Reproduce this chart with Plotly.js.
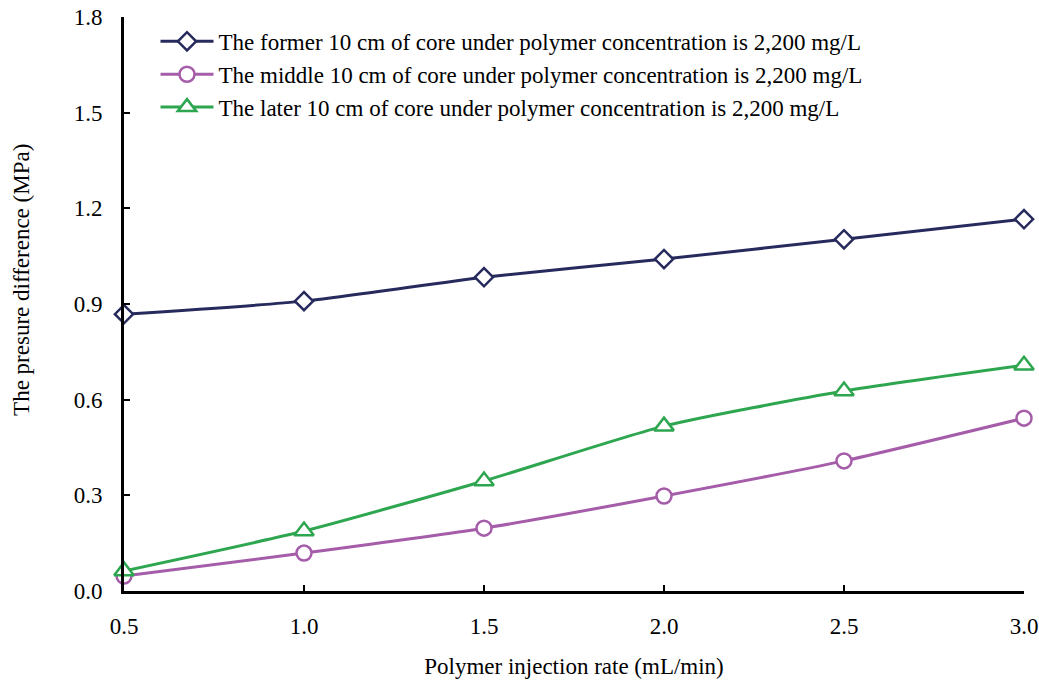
<!DOCTYPE html>
<html>
<head>
<meta charset="utf-8">
<script src="https://cdn.plot.ly/plotly-3.0.1.min.js"></script>
<style>html,body{margin:0;padding:0;background:#fff;}#chart{width:1039px;height:682px;}</style>
</head>
<body>
<div id="chart"></div>
<script>
const injectionRate = [0.5, 1.0, 1.5, 2.0, 2.5, 3.0];
const formerCore = [0.868, 0.909, 0.984, 1.041, 1.103, 1.166];
const middleCore = [0.047, 0.119, 0.197, 0.298, 0.408, 0.542];
const laterCore = [0.063, 0.188, 0.345, 0.517, 0.627, 0.708];
const seriesNames = [
  "The former 10 cm of core under polymer concentration is 2,200 mg/L",
  "The middle 10 cm of core under polymer concentration is 2,200 mg/L",
  "The later 10 cm of core under polymer concentration is 2,200 mg/L"
];
const font = "Liberation Serif, Times New Roman, serif";

function trace(y, name, color, symbol, size) {
  return {
    x: injectionRate, y: y, name: name, type: "scatter", mode: "lines+markers",
    line: {color: color, width: 3, shape: "spline", smoothing: 0.6},
    marker: {symbol: symbol, size: size, color: "#ffffff", line: {color: color, width: 2.5}},
    cliponaxis: false
  };
}
const data = [
  trace(formerCore, seriesNames[0], "#272a5c", "diamond", 14),
  trace(middleCore, seriesNames[1], "#a55ca9", "circle", 15),
  trace(laterCore, seriesNames[2], "#2ea650", "triangle-up", 17)
];
const layout = {
  width: 1039, height: 682,
  margin: {l: 124, r: 15, t: 17, b: 91},
  paper_bgcolor: "#fff", plot_bgcolor: "#fff",
  font: {family: font, color: "#000", size: 23},
  showlegend: true,
  legend: {x: 0.035, y: 0.995, xanchor: "left", yanchor: "top", bgcolor: "rgba(0,0,0,0)",
           font: {family: font, size: 23, color: "#000"}, itemwidth: 53, tracegroupgap: 0},
  xaxis: {
    range: [0.5, 3.0], tickvals: injectionRate, tickformat: ".1f",
    showline: true, linecolor: "#000", linewidth: 3, showgrid: false, zeroline: false,
    ticks: "inside", ticklen: 6, tickwidth: 2, tickcolor: "#000",
    tickfont: {family: font, size: 23}, ticklabelstandoff: 12,
    title: {text: "Polymer injection rate (mL/min)", font: {family: font, size: 23}, standoff: 21}
  },
  yaxis: {
    range: [0, 1.8], dtick: 0.3, tick0: 0, tickformat: ".1f",
    showline: true, linecolor: "#000", linewidth: 3, showgrid: false, zeroline: false,
    ticks: "inside", ticklen: 6, tickwidth: 2, tickcolor: "#000",
    tickfont: {family: font, size: 23}, ticklabelstandoff: 14
  },
  annotations: [{
    text: "The presure difference (MPa)", textangle: -90, showarrow: false,
    xref: "paper", yref: "paper", x: -0.1133, y: 0.542, xanchor: "center", yanchor: "middle",
    font: {family: font, size: 23, color: "#000"}
  }]
};
Plotly.newPlot("chart", data, layout, {displayModeBar: false, staticPlot: true});
</script>
</body>
</html>
